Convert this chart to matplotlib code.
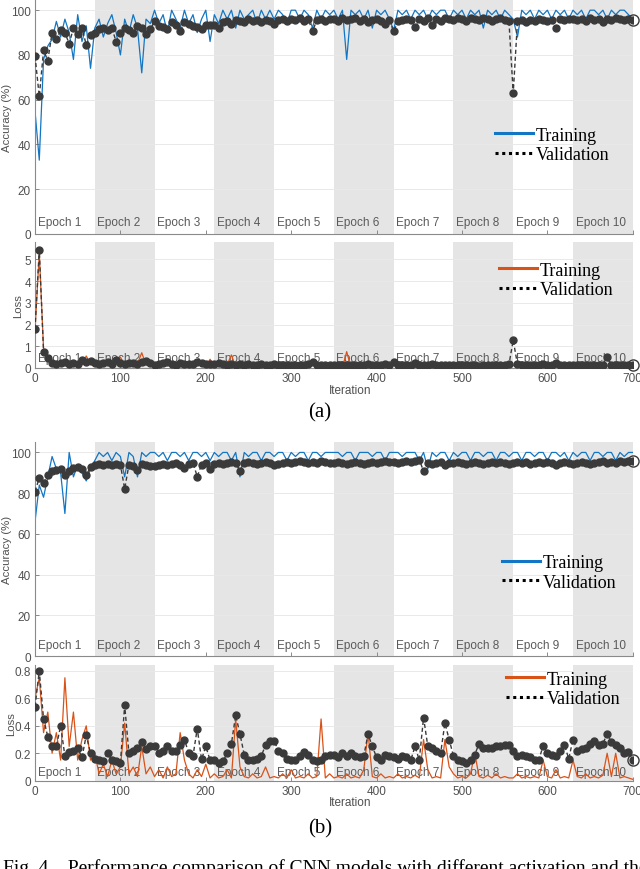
import numpy as np
import matplotlib
matplotlib.use("Agg")
import matplotlib.pyplot as plt
from matplotlib.lines import Line2D
from matplotlib.ticker import FormatStrFormatter
from matplotlib.transforms import blended_transform_factory

plt.rcParams['font.family'] = ['Liberation Sans', 'DejaVu Sans']

# one reading every 5 iterations -> 14 readings per epoch, plus the last one
iterations = np.arange(0, 701, 5)
epoch_len = 70
epoch_names = ["Epoch 1", "Epoch 2", "Epoch 3", "Epoch 4", "Epoch 5",
               "Epoch 6", "Epoch 7", "Epoch 8", "Epoch 9", "Epoch 10"]

# ---- (a) ----
acc_train_a = [55, 33, 78, 84, 87, 95, 88, 96, 90, 78, 98, 86, 93, 74,
               92, 96, 88, 94, 98, 90, 80, 96, 90, 98, 92, 72, 96, 94,
               100, 94, 98, 90, 100, 96, 92, 100, 94, 98, 90, 96, 100, 86,
               98, 94, 100, 96, 100, 92, 100, 96, 98, 100, 94, 100, 96, 100,
               96, 100, 98, 94, 100, 100, 96, 100, 98, 92, 100, 96, 100, 98,
               100, 96, 100, 78, 100, 98, 100, 96, 100, 92, 100, 98, 100, 96,
               91, 100, 98, 100, 96, 100, 98, 100, 96, 100, 98, 100, 100, 96,
               100, 98, 100, 96, 100, 98, 100, 92, 100, 98, 100, 96, 100, 98,
               96, 88, 100, 98, 100, 96, 100, 98, 100, 96, 100, 98, 100, 96,
               100, 98, 100, 96, 100, 100, 98, 100, 96, 100, 98, 100, 100, 98,
               96]
acc_val_a = [79.5, 61.5, 82, 77.5, 90, 87, 91, 90, 85, 92, 89.5, 92, 84.5, 89,
             90, 91.5, 92, 91, 92, 86, 90, 92, 91, 90, 93, 92, 89.5, 91.5,
             95, 93, 92.5, 91.5, 94.5, 93.5, 90.8, 94.5, 94, 93, 92.5, 91.5, 93.5, 93.6,
             93.6, 92, 94.5, 95, 94, 95.5, 95, 94.5, 96, 95, 95.5, 94.5, 95.5, 95,
             94, 95.5, 96, 95, 96, 95.5, 96.5, 95, 96, 90.6, 95.5, 96, 95, 96,
             96, 95, 96.5, 95.5, 96, 96.5, 95, 96, 94.5, 95.5, 96, 95, 94, 95.5,
             90.5, 95, 95.5, 96, 95.5, 92.5, 96, 95, 96.5, 93.3, 96, 95, 96.5, 96,
             95.5, 96.5, 96, 95, 96.5, 96, 95.5, 96.5, 96, 95, 96, 96.5, 95.5, 95,
             62.9, 95, 95.5, 94.5, 95.5, 95, 96, 95.5, 95, 95.5, 92.2, 96, 95.5, 96,
             96, 95.5, 96, 95, 96.5, 95.5, 96, 94.5, 96, 95.5, 96.5, 96, 95.5, 96,
             95.5]
loss_train_a = [1.7, 5.3, 0.9, 0.45, 0.25, 0.15, 0.3, 0.12, 0.2, 0.1, 0.25, 0.15, 0.55, 0.2,
                0.1, 0.3, 0.15, 0.35, 0.08, 0.25, 0.5, 0.12, 0.3, 0.08, 0.2, 0.7, 0.15, 0.12,
                0.05, 0.2, 0.1, 0.3, 0.05, 0.15, 0.25, 0.05, 0.2, 0.1, 0.3, 0.08, 0.05, 0.4,
                0.08, 0.2, 0.03, 0.15, 0.6, 0.05, 0.04, 0.15, 0.1, 0.03, 0.2, 0.05, 0.15, 0.03,
                0.1, 0.03, 0.05, 0.15, 0.02, 0.08, 0.12, 0.03, 0.05, 0.25, 0.02, 0.1, 0.05, 0.02,
                0.03, 0.1, 0.02, 0.75, 0.03, 0.05, 0.02, 0.1, 0.04, 0.2, 0.02, 0.06, 0.03, 0.1,
                0.25, 0.02, 0.05, 0.03, 0.1, 0.02, 0.04, 0.03, 0.1, 0.02, 0.05, 0.03, 0.02, 0.08,
                0.02, 0.05, 0.03, 0.1, 0.02, 0.04, 0.03, 0.2, 0.02, 0.05, 0.03, 0.08, 0.02, 0.04,
                0.1, 0.3, 0.02, 0.05, 0.03, 0.1, 0.02, 0.04, 0.03, 0.08, 0.02, 0.05, 0.03, 0.1,
                0.02, 0.05, 0.03, 0.02, 0.08, 0.02, 0.04, 0.03, 0.1, 0.02, 0.05, 0.03, 0.02, 0.05,
                0.03]
loss_val_a = [1.8, 5.45, 0.75, 0.45, 0.25, 0.2, 0.22, 0.28, 0.18, 0.24, 0.2, 0.35, 0.26, 0.3,
              0.25, 0.2, 0.22, 0.28, 0.2, 0.35, 0.24, 0.2, 0.25, 0.22, 0.18, 0.28, 0.3, 0.24,
              0.15, 0.2, 0.22, 0.28, 0.18, 0.15, 0.25, 0.16, 0.18, 0.2, 0.28, 0.22, 0.18, 0.2,
              0.2, 0.25, 0.16, 0.14, 0.18, 0.15, 0.16, 0.14, 0.18, 0.13, 0.15, 0.2, 0.14, 0.15,
              0.18, 0.14, 0.13, 0.15, 0.12, 0.14, 0.13, 0.15, 0.16, 0.28, 0.15, 0.13, 0.14, 0.12,
              0.12, 0.15, 0.13, 0.12, 0.14, 0.12, 0.15, 0.13, 0.17, 0.14, 0.12, 0.15, 0.18, 0.14,
              0.28, 0.15, 0.14, 0.13, 0.15, 0.22, 0.13, 0.14, 0.12, 0.2, 0.13, 0.14, 0.12, 0.13,
              0.14, 0.12, 0.13, 0.15, 0.12, 0.14, 0.11, 0.13, 0.12, 0.14, 0.15, 0.12, 0.13, 0.16,
              1.28, 0.16, 0.14, 0.15, 0.13, 0.15, 0.14, 0.16, 0.13, 0.15, 0.24, 0.13, 0.14, 0.12,
              0.13, 0.14, 0.12, 0.15, 0.13, 0.14, 0.12, 0.13, 0.52, 0.15, 0.12, 0.14, 0.13, 0.12,
              0.15]

# ---- (b) ----
acc_train_b = [66, 84, 78, 88, 98, 92, 90, 70, 100, 88, 94, 90, 86, 92,
               96, 100, 98, 100, 96, 100, 98, 88, 100, 98, 88, 100, 98, 100,
               100, 98, 100, 96, 100, 100, 98, 100, 96, 100, 100, 98, 100, 96,
               100, 98, 100, 100, 96, 100, 88, 100, 98, 100, 100, 96, 100, 100,
               98, 100, 100, 96, 100, 98, 100, 100, 96, 100, 100, 98, 100, 100,
               100, 100, 98, 100, 100, 96, 100, 100, 100, 98, 100, 100, 96, 100,
               100, 100, 98, 100, 100, 100, 96, 100, 92, 100, 98, 100, 100, 96,
               100, 98, 100, 100, 96, 100, 100, 98, 100, 100, 96, 100, 100, 98,
               100, 100, 96, 100, 100, 98, 100, 100, 96, 100, 100, 98, 100, 96,
               100, 98, 100, 100, 96, 100, 100, 98, 100, 100, 96, 100, 98, 100,
               100]
acc_val_b = [80.8, 87.5, 85, 89, 91, 91.5, 92, 89, 91, 92.3, 93, 92, 89, 92.7,
             94, 94.5, 94, 94.5, 94, 94.5, 94, 82.1, 94, 93.5, 91.6, 94.5, 94, 93.5,
             93.5, 94, 94.5, 94, 94.5, 95, 94, 92.5, 94.5, 95, 88.1, 94, 95, 92,
             94.5, 95, 94.5, 95, 95.5, 95, 90.8, 95, 95.5, 95, 94.5, 95, 95.5, 95,
             94, 94.5, 95, 95.5, 95, 95.5, 96, 95.5, 95, 95.5, 95, 96, 95.5, 95,
             95, 95.5, 95, 94.5, 95, 95.5, 95, 94.5, 95, 95.5, 95, 95.5, 96, 95.5,
             95.5, 95, 95.5, 96, 95.5, 96, 96.5, 90.8, 95, 94.5, 95, 95.5, 93.8, 95,
             95, 95.5, 95, 94.5, 95, 95.5, 95, 94.5, 95, 95.5, 95, 95.5, 95, 94.5,
             95, 95.5, 95, 95.5, 94.5, 95, 95.5, 95, 95.5, 95, 94, 95, 95.5, 95,
             94.5, 95, 95.5, 95, 94.5, 95, 95.5, 96, 95, 95.5, 95, 96, 95.5, 96,
             96]
loss_train_b = [0.6, 0.75, 0.35, 0.5, 0.2, 0.35, 0.15, 0.75, 0.25, 0.5, 0.15, 0.3, 0.4, 0.15,
                0.2, 0.05, 0.12, 0.03, 0.15, 0.05, 0.1, 0.42, 0.05, 0.1, 0.03, 0.25, 0.05, 0.1,
                0.03, 0.08, 0.02, 0.1, 0.03, 0.05, 0.35, 0.15, 0.05, 0.02, 0.08, 0.03, 0.12, 0.02,
                0.05, 0.02, 0.03, 0.08, 0.02, 0.45, 0.1, 0.03, 0.02, 0.05, 0.02, 0.03, 0.1, 0.02,
                0.03, 0.02, 0.05, 0.02, 0.08, 0.02, 0.03, 0.02, 0.05, 0.02, 0.03, 0.45, 0.02, 0.05,
                0.02, 0.03, 0.02, 0.05, 0.02, 0.03, 0.02, 0.08, 0.35, 0.03, 0.02, 0.05, 0.02, 0.03,
                0.02, 0.05, 0.02, 0.03, 0.02, 0.04, 0.02, 0.3, 0.08, 0.02, 0.03, 0.02, 0.3, 0.1,
                0.05, 0.02, 0.03, 0.02, 0.05, 0.2, 0.03, 0.02, 0.04, 0.02, 0.05, 0.02, 0.03, 0.02,
                0.02, 0.05, 0.02, 0.03, 0.02, 0.03, 0.02, 0.15, 0.03, 0.02, 0.08, 0.02, 0.03, 0.02,
                0.15, 0.03, 0.02, 0.05, 0.02, 0.03, 0.02, 0.04, 0.2, 0.03, 0.2, 0.02, 0.03, 0.02,
                0.01]
loss_val_b = [0.54, 0.8, 0.45, 0.32, 0.25, 0.25, 0.4, 0.18, 0.21, 0.22, 0.24, 0.17, 0.33, 0.2,
              0.16, 0.15, 0.14, 0.2, 0.15, 0.14, 0.13, 0.55, 0.2, 0.22, 0.24, 0.28, 0.23, 0.25,
              0.25, 0.2, 0.22, 0.25, 0.22, 0.22, 0.26, 0.3, 0.2, 0.18, 0.38, 0.155, 0.25, 0.15,
              0.15, 0.13, 0.14, 0.2, 0.27, 0.478, 0.34, 0.19, 0.15, 0.15, 0.16, 0.18, 0.26, 0.29,
              0.29, 0.22, 0.2, 0.16, 0.15, 0.15, 0.18, 0.21, 0.19, 0.15, 0.14, 0.15, 0.18, 0.19,
              0.19, 0.17, 0.2, 0.18, 0.2, 0.18, 0.17, 0.18, 0.34, 0.25, 0.17, 0.15, 0.19, 0.18,
              0.17, 0.16, 0.18, 0.17, 0.15, 0.25, 0.15, 0.46, 0.25, 0.24, 0.22, 0.2, 0.42, 0.3,
              0.18, 0.15, 0.14, 0.13, 0.15, 0.19, 0.27, 0.24, 0.24, 0.24, 0.25, 0.25, 0.26, 0.26,
              0.22, 0.18, 0.19, 0.18, 0.17, 0.15, 0.15, 0.255, 0.2, 0.19, 0.18, 0.22, 0.26, 0.16,
              0.3, 0.22, 0.23, 0.24, 0.27, 0.29, 0.26, 0.27, 0.34, 0.28, 0.26, 0.24, 0.2, 0.21,
              0.15]

BLUE = '#1276c4'
ORANGE = '#d95319'
DARK = '#3a3a3a'
GRAY_TXT = '#505050'
BAND = '#e5e5e5'


def draw_panel(ax, train, val, color, ylim, yticks, ylabel, label_x,
               epoch_y, legend_xy, show_x):
    # shaded even epochs
    for k in range(1, 10, 2):
        ax.axvspan(k * epoch_len, (k + 1) * epoch_len, color=BAND, lw=0, zorder=0)

    trans = blended_transform_factory(ax.transData, ax.transAxes)
    for k, name in enumerate(epoch_names):
        ax.text(k * epoch_len + 3, epoch_y, name, transform=trans, fontsize=8.5,
                color='#5a5a5a', va='center', ha='left', zorder=1)

    ax.plot(iterations, train, color=color, lw=0.9, zorder=2)
    ax.plot(iterations, val, color=DARK, lw=1.0, ls=(0, (3, 2)), marker='o',
            ms=5, mfc=DARK, mec=DARK, zorder=3)
    ax.plot(iterations[-1], val[-1], marker='o', ms=8, mfc='none', mec=DARK,
            mew=1.0, zorder=4, clip_on=False)

    ax.set_xlim(0, 700)
    ax.set_ylim(*ylim)
    ax.set_xticks(range(0, 701, 100))
    ax.set_yticks(yticks)
    ax.yaxis.set_major_formatter(FormatStrFormatter('%g'))
    if not show_x:
        ax.set_xticklabels([])
    ax.grid(axis='y', color='#e9e9e9', lw=0.7)
    ax.set_axisbelow(True)
    for s in ('top', 'right'):
        ax.spines[s].set_visible(False)
    for s in ('left', 'bottom'):
        ax.spines[s].set_color('#8a8a8a')
        ax.spines[s].set_linewidth(0.8)
    ax.tick_params(direction='in', length=3, width=0.7, color='#8a8a8a',
                   labelsize=8.5, labelcolor=GRAY_TXT, pad=3)
    ax.set_ylabel(ylabel, fontsize=8.2, color=GRAY_TXT)
    ax.yaxis.set_label_coords(label_x, 0.5)

    handles = [Line2D([], [], color=color, lw=2.2),
               Line2D([], [], color='black', lw=2.2, ls=(0, (1, 1.2)))]
    ax.legend(handles, ['Training', 'Validation'], loc='center left',
              bbox_to_anchor=legend_xy, frameon=False,
              prop={'family': 'Liberation Serif', 'size': 13},
              handlelength=2.1, handletextpad=0.15, labelspacing=0.15,
              borderpad=0, borderaxespad=0)


fig = plt.figure(figsize=(6.4, 8.7), dpi=100)

ax1 = fig.add_axes([0.0547, 0.7299, 0.934, 0.2701])
ax2 = fig.add_axes([0.0547, 0.5759, 0.934, 0.1448])
ax3 = fig.add_axes([0.0547, 0.2448, 0.934, 0.2457])
ax4 = fig.add_axes([0.0547, 0.1015, 0.934, 0.1333])

draw_panel(ax1, acc_train_a, acc_val_a, BLUE, (0, 105), range(0, 101, 20),
           'Accuracy (%)', -0.038, 0.051, (0.769, 0.379), False)
draw_panel(ax2, loss_train_a, loss_val_a, ORANGE, (0, 5.8), range(0, 6),
           'Loss', -0.02, 0.077, (0.776, 0.698), True)
draw_panel(ax3, acc_train_b, acc_val_b, BLUE, (0, 105), range(0, 101, 20),
           'Accuracy (%)', -0.038, 0.051, (0.781, 0.391), False)
draw_panel(ax4, loss_train_b, loss_val_b, ORANGE, (0, 0.845),
           [0, 0.2, 0.4, 0.6, 0.8], 'Loss', -0.032, 0.072, (0.788, 0.79), True)

for ax in (ax2, ax4):
    ax.set_xlabel('Iteration', fontsize=8.5, color=GRAY_TXT)
    ax.xaxis.set_label_coords(0.527, -0.13)

fig.text(0.5, 0.526, '(a)', ha='center', va='center',
         family='Liberation Serif', fontsize=15)
fig.text(0.5, 0.047, '(b)', ha='center', va='center',
         family='Liberation Serif', fontsize=15)
fig.text(0.004, -0.004, 'Fig. 4.   Performance comparison of CNN models with '
         'different activation and the number of f', ha='left', va='baseline',
         family='Liberation Serif', fontsize=14)

fig.savefig('out.png', dpi=100)
